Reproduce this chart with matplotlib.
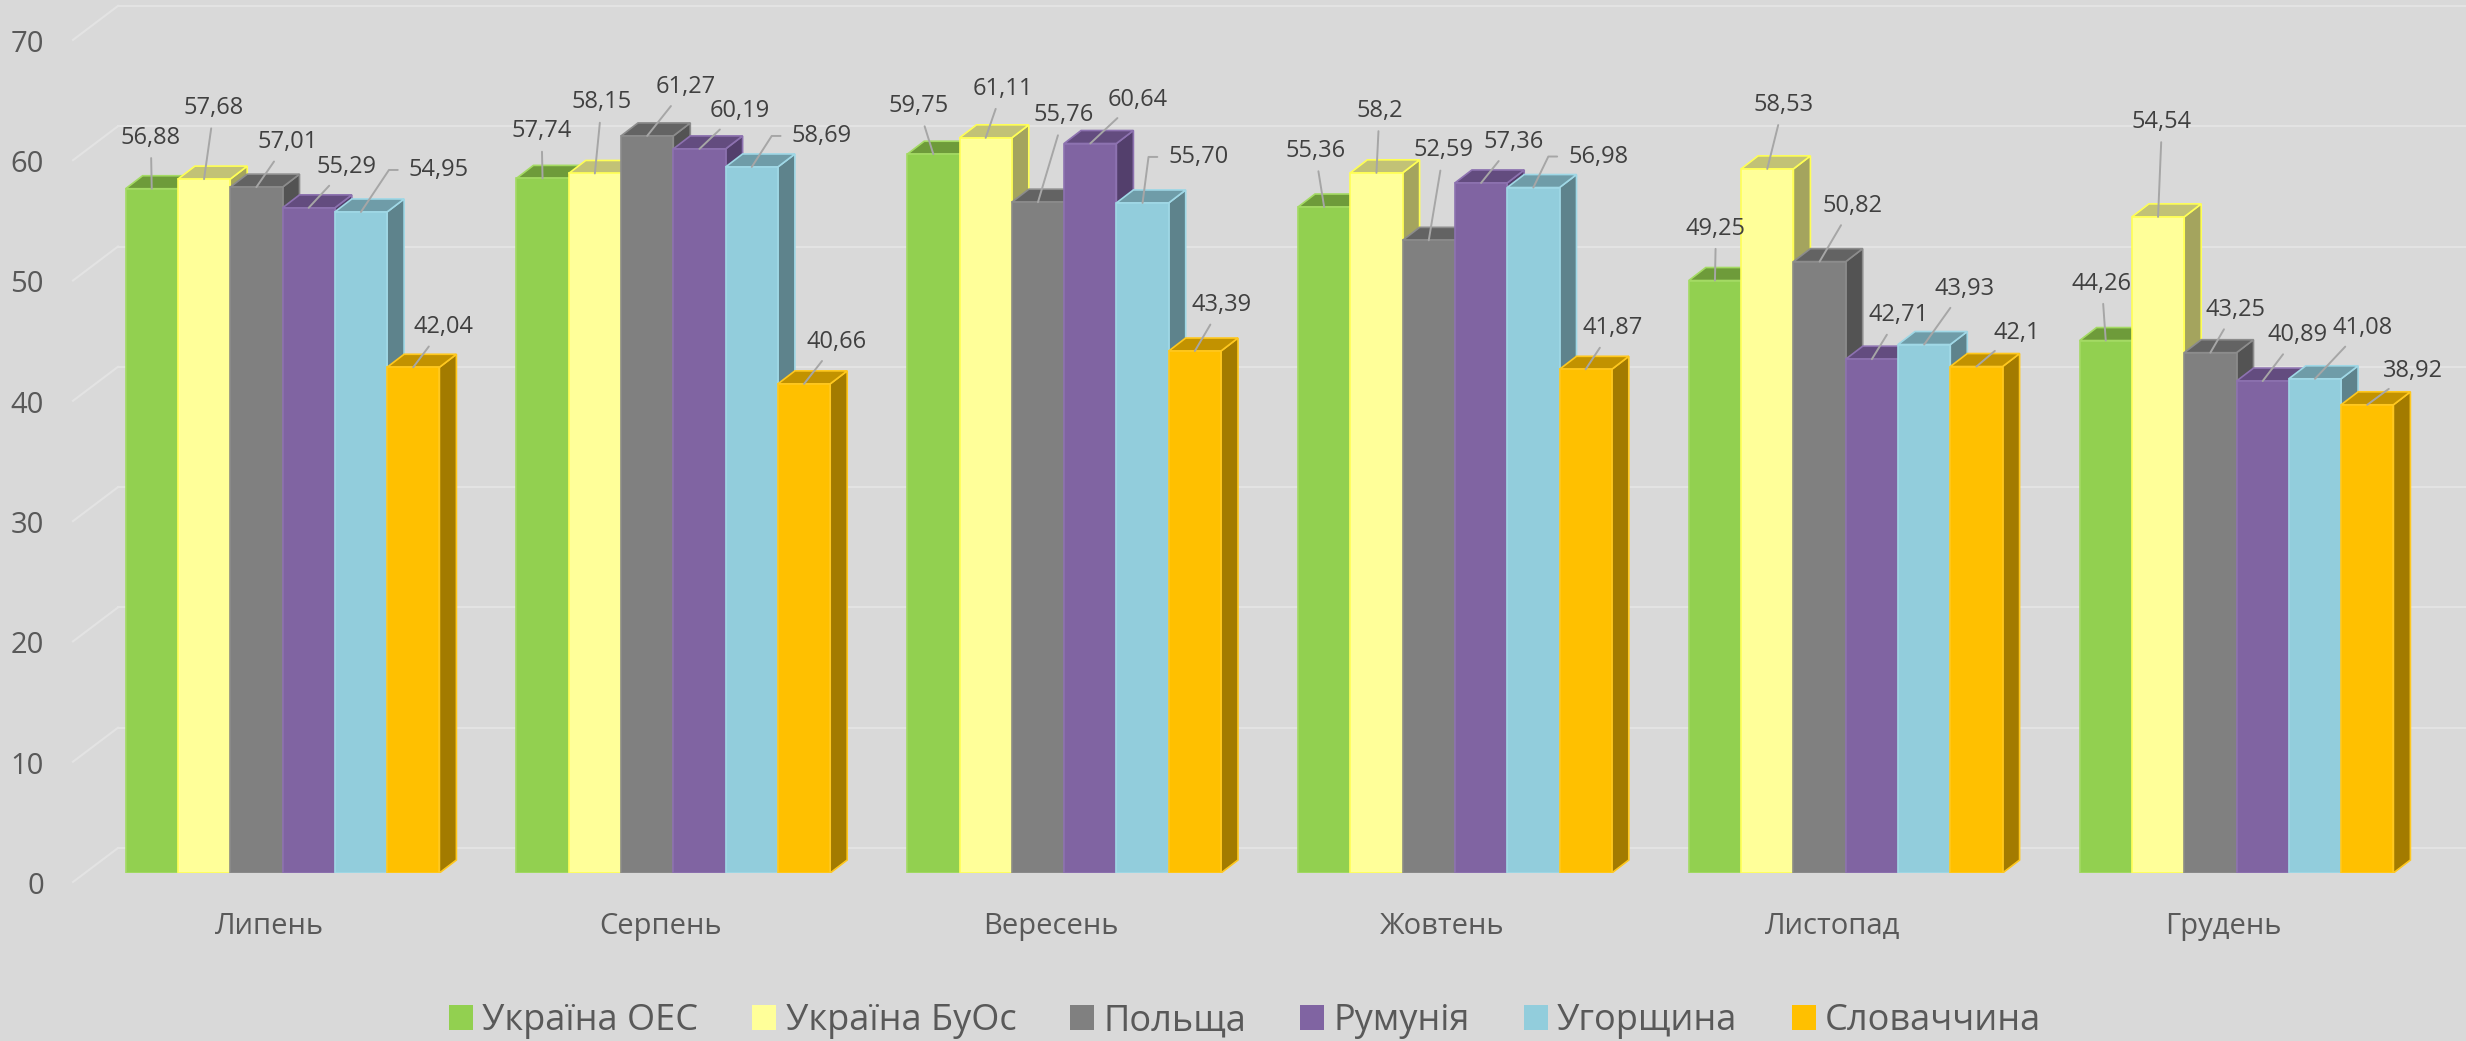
import math
import matplotlib.pyplot as plt
from matplotlib.patches import Polygon, Patch
from matplotlib.transforms import ScaledTranslation

plt.rcParams['font.family'] = ['Open Sans', 'DejaVu Sans']

months = ["Липень", "Серпень", "Вересень", "Жовтень", "Листопад", "Грудень"]
series_names = ["Україна ОЕС", "Україна БуОс", "Польща", "Румунія", "Угорщина", "Словаччина"]

# values exactly as printed on the chart (comma decimals)
ukraine_oes = ["56,88", "57,74", "59,75", "55,36", "49,25", "44,26"]
ukraine_buos = ["57,68", "58,15", "61,11", "58,2", "58,53", "54,54"]
poland = ["57,01", "61,27", "55,76", "52,59", "50,82", "43,25"]
romania = ["55,29", "60,19", "60,64", "57,36", "42,71", "40,89"]
hungary = ["54,95", "58,69", "55,70", "56,98", "43,93", "41,08"]
slovakia = ["42,04", "40,66", "43,39", "41,87", "42,1", "38,92"]
y_ticks = [0, 10, 20, 30, 40, 50, 60, 70]

series_text = [ukraine_oes, ukraine_buos, poland, romania, hungary, slovakia]
series_vals = [[float(t.replace(",", ".")) for t in s] for s in series_text]

# styling
BG = "#D9D9D9"
GRID = "#E3E3E3"
front_c = ["#92D050", "#FFFF99", "#808080", "#8064A2", "#92CDDC", "#FFC000"]
top_c = ["#6E9B3A", "#C2C276", "#636363", "#634C7F", "#6F9CA8", "#C29200"]
side_c = ["#5E8632", "#A4A45E", "#535353", "#533F6C", "#5E838C", "#A37B00"]
edge_c = ["#A4DA64", "#FFFF55", "#8C8C8C", "#8D72B0", "#A0D8E6", "#FFC81F"]

# label offsets from bar top (pixels: right, up), per month then series
label_off = [
    [(-1, 51), (10, 71), (31, 45), (38, 41), (78, 42), (30, 40)],
    [(-1, 47), (7, 71), (39, 49), (40, 38), (70, 31), (33, 42)],
    [(-15, 48), (17, 49), (26, 87), (47, 44), (56, 46), (27, 46)],
    [(-9, 56), (3, 62), (15, 90), (33, 41), (65, 31), (27, 41)],
    [(1, 52), (16, 64), (33, 56), (27, 44), (40, 56), (40, 34)],
    [(-4, 57), (4, 95), (25, 43), (35, 46), (48, 51), (46, 34)],
]

# layout in pixels
W, H, DPI = 2466, 1041, 100
ax_left_px = 60
base_px = 168          # front face zero, from the bottom of the figure
slot_px = 390.8        # width of one month slot
first_center_px = 282.5
unit_px = 12.03        # pixels per value unit
bar_px = 52.3
depth_x, depth_y = 17, 13        # bar depth projection
wall_x, wall_y = 118, 25         # back wall start / lift
side_x, side_drop = 73, 9        # left edge of the side wall lines

fig = plt.figure(figsize=(W / DPI, H / DPI), dpi=DPI, facecolor=BG)
ax = fig.add_axes([ax_left_px / W, base_px / H, 1 - ax_left_px / W, 1 - base_px / H])
ax.set_facecolor(BG)
x0_lim = (ax_left_px - first_center_px) / slot_px
ax.set_xlim(x0_lim, (W - first_center_px) / slot_px)
ax.set_ylim(0, (H - base_px) / unit_px)
for sp in ax.spines.values():
    sp.set_visible(False)


def px_x(p):
    return x0_lim + (p - ax_left_px) / slot_px


# gridlines on the back wall and side wall
for v in y_ticks:
    yw = v + wall_y / unit_px
    ax.plot([px_x(wall_x), px_x(W + 10)], [yw, yw], color=GRID, lw=1.5, zorder=1, clip_on=False)
    ax.plot([px_x(side_x), px_x(wall_x)], [v - side_drop / unit_px, yw], color=GRID, lw=1.5,
            zorder=1, clip_on=False)

bw = bar_px / slot_px
ddx = depth_x / slot_px
ddy = depth_y / unit_px
centers = list(range(len(months)))

for s, vals in enumerate(series_vals):
    lefts = [c - 3 * bw + s * bw for c in centers]
    ax.bar(lefts, vals, width=bw, align="edge", color=front_c[s], edgecolor=edge_c[s],
           linewidth=1.2, zorder=3 * s + 3)
    for g, v in enumerate(vals):
        xa, xb = lefts[g], lefts[g] + bw
        side = Polygon([(xb, 0), (xb + ddx, ddy), (xb + ddx, v + ddy), (xb, v)], closed=True,
                       facecolor=side_c[s], edgecolor=edge_c[s], lw=1.2, zorder=3 * s + 1)
        top = Polygon([(xa, v), (xb, v), (xb + ddx, v + ddy), (xa + ddx, v + ddy)], closed=True,
                      facecolor=top_c[s], edgecolor=edge_c[s], lw=1.2, zorder=3 * s + 2)
        ax.add_patch(side)
        ax.add_patch(top)

        dx, dy = label_off[g][s]
        arrow = dict(arrowstyle="-", color="#A6A6A6", lw=1.4, shrinkA=4, shrinkB=0)
        if dx > 52:
            ang = math.degrees(math.atan2(dy, dx - 50))
            arrow.update(relpos=(0, 0.5), shrinkA=6,
                         connectionstyle=f"angle,angleA=0,angleB={ang:.1f},rad=0")
        ax.annotate(series_text[s][g], xy=(xa + bw / 2, v), xytext=(dx, dy),
                    textcoords="offset pixels", ha="center", va="center",
                    fontsize=17, color="#404040", arrowprops=arrow, zorder=40)

ax.set_yticks(y_ticks, [str(t) for t in y_ticks])
ax.set_xticks(centers, months)
ax.tick_params(axis="y", length=0, pad=11.5, labelsize=21, labelcolor="#595959")
ax.tick_params(axis="x", length=0, pad=28, labelsize=21, labelcolor="#595959")
for lbl in ax.get_yticklabels():
    lbl.set_transform(lbl.get_transform() + ScaledTranslation(0, -10 / DPI, fig.dpi_scale_trans))
for lbl in ax.get_xticklabels():
    lbl.set_transform(lbl.get_transform() + ScaledTranslation(-13 / DPI, 0, fig.dpi_scale_trans))

handles = [Patch(facecolor=c, edgecolor="none") for c in front_c]
fig.legend(handles, series_names, loc="lower center", bbox_to_anchor=(1245 / W, 0.0),
           borderaxespad=0.0, borderpad=0.05,
           ncol=6, frameon=False, fontsize=26, labelcolor="#595959",
           handlelength=0.665, handleheight=0.665, handletextpad=0.25, columnspacing=1.5)

fig.savefig("out.png", dpi=DPI, facecolor=BG)
